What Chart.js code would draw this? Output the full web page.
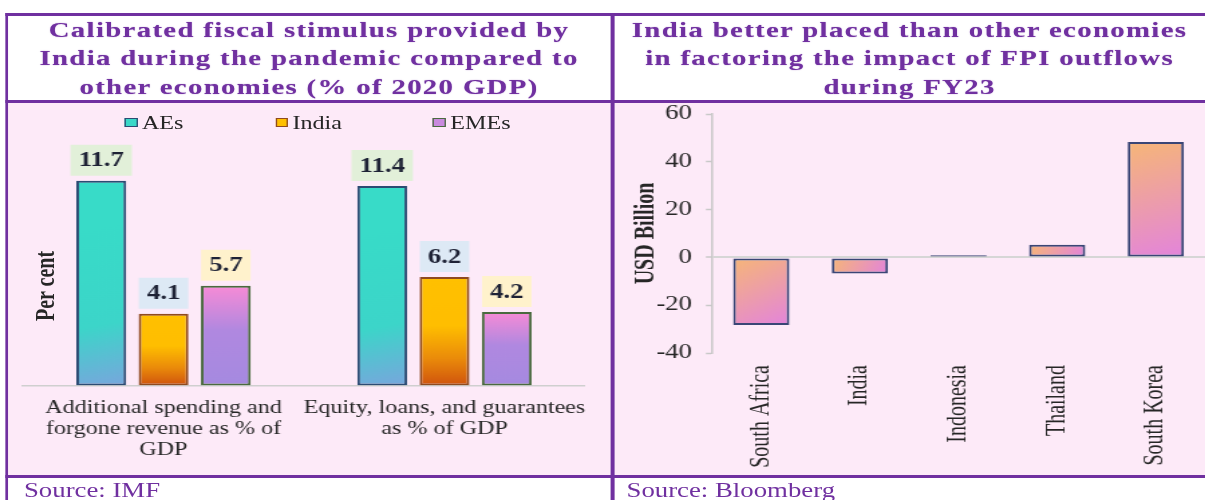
<!DOCTYPE html>
<html>
<head>
<meta charset="utf-8">
<script src="https://cdn.jsdelivr.net/npm/chart.js@4.4.1/dist/chart.umd.min.js"></script>
<style>
html,body{margin:0;padding:0;background:#fff;width:1205px;height:500px;overflow:hidden;}
#stage{position:absolute;left:0;top:0;width:900px;height:500px;transform:scaleX(1.339);transform-origin:0 0;font-family:'Liberation Serif','Times New Roman',serif;}
.line{position:absolute;background:#7030a0;}
.panel{position:absolute;background:#fdeaf8;}
.title{position:absolute;top:15.75px;text-align:center;color:#7030a0;font-weight:bold;font-size:21.5px;line-height:28.5px;letter-spacing:1.0px;white-space:nowrap;text-shadow:0 0 1px rgba(112,48,160,0.6);}
.src{position:absolute;top:479px;color:#7030a0;font-size:20px;line-height:22px;white-space:nowrap;}
.cw{position:absolute;top:103px;height:372px;}
.leg{position:absolute;top:112px;font-size:18px;line-height:22px;color:#262626;white-space:nowrap;}
.mk{position:absolute;top:118px;width:7.7px;height:7px;border:1px solid;}
.ytitle{position:absolute;left:32.8px;top:286px;transform:translate(-50%,-50%) rotate(-90deg);font-weight:bold;font-size:20px;line-height:22px;color:#262626;white-space:nowrap;}
</style>
</head>
<body>
<div id="stage">
  <div class="panel" style="left:6px;top:103px;width:449.6px;height:372px;"></div>
  <div class="panel" style="left:458.6px;top:103px;width:441.4px;height:372px;"></div>

  <div class="line" style="left:3.7px;top:13px;width:896.3px;height:3px;"></div>
  <div class="line" style="left:3.7px;top:100px;width:896.3px;height:3px;"></div>
  <div class="line" style="left:3.7px;top:475px;width:896.3px;height:3px;"></div>
  <div class="line" style="left:3.7px;top:13px;width:2.3px;height:487px;"></div>
  <div class="line" style="left:455.6px;top:13px;width:3px;height:487px;"></div>

  <div class="title" style="left:6px;width:449.6px;">Calibrated fiscal stimulus provided by<br>India during the pandemic compared to<br>other economies (% of 2020 GDP)</div>
  <div class="title" style="left:458.6px;width:441.4px;">India better placed than other economies<br>in factoring the impact of FPI outflows<br>during FY23</div>

  <div class="mk" style="left:93.3px;background:#3ad8c8;border-color:#2c4b73;"></div>
  <div class="leg" style="left:106px;">AEs</div>
  <div class="mk" style="left:205.6px;background:#ffc000;border-color:#8f4a1f;"></div>
  <div class="leg" style="left:218.4px;">India</div>
  <div class="mk" style="left:323.1px;background:#c98ade;border-color:#4a6a3f;"></div>
  <div class="leg" style="left:336.3px;">EMEs</div>

  <div class="ytitle">Per cent</div>

  <div class="cw" style="left:6px;width:449px;"><canvas id="left"></canvas></div>
  <div class="cw" style="left:459px;width:441px;"><canvas id="right"></canvas></div>

  <div class="src" style="left:17.9px;">Source: IMF</div>
  <div class="src" style="left:467.9px;">Source: Bloomberg</div>
</div>

<script>
// ---------- data ----------
const fiscalCategories = [
  ['Additional spending and', 'forgone revenue as % of', 'GDP'],
  ['Equity, loans, and guarantees', 'as % of GDP']
];
const fiscalSeriesNames = ['AEs', 'India', 'EMEs'];
const aesValues = [11.7, 11.4];
const indiaValues = [4.1, 6.2];
const emesValues = [5.7, 4.2];

const fpiCountries = ['South Africa', 'India', 'Indonesia', 'Thailand', 'South Korea'];
const fpiValues = [-28.3, -6.7, 0.9, 5.3, 48.3];
const fpiAxisMin = -40;
const fpiAxisMax = 60;
const fpiAxisStep = 20;

// ---------- styling ----------
const SERIF = "'Liberation Serif', 'Times New Roman', serif";
const TEXT = '#262626';
const CAT_PCT = 0.665, BAR_PCT = 0.8;

function groupedBarBox(c) {
  const chart = c.chart, area = chart.chartArea;
  const xs = chart.scales.x, ys = chart.scales.y;
  const n = chart.data.labels.length, m = chart.data.datasets.length;
  const catW = area.width / n;
  const groupW = catW * CAT_PCT;
  const slot = groupW / m;
  const cx = xs.getPixelForValue(c.dataIndex) - groupW / 2 + slot * (c.datasetIndex + 0.5);
  const bw = slot * BAR_PCT;
  const y1 = ys.getPixelForValue(c.raw), y0 = ys.getPixelForValue(0);
  return {left: cx - bw / 2, right: cx + bw / 2, top: Math.min(y0, y1), bottom: Math.max(y0, y1)};
}
function singleBarBox(c, pct) {
  const chart = c.chart, area = chart.chartArea;
  const xs = chart.scales.x, ys = chart.scales.y;
  const catW = area.width / chart.data.labels.length;
  const cx = xs.getPixelForValue(c.dataIndex);
  const bw = catW * pct;
  const y1 = ys.getPixelForValue(c.raw), y0 = ys.getPixelForValue(0);
  return {left: cx - bw / 2, right: cx + bw / 2, top: Math.min(y0, y1), bottom: Math.max(y0, y1)};
}
function makeFill(fallback, boxFn, dirFn, stops) {
  return function (c) {
    const chart = c.chart;
    if (c.type !== 'data' || !chart.chartArea || !chart.scales.x || !chart.scales.y) return fallback;
    const b = boxFn(c);
    const [x0, y0, x1, y1] = dirFn(b);
    const g = chart.ctx.createLinearGradient(x0, y0, x1, y1);
    stops.forEach(s => g.addColorStop(s[0], s[1]));
    return g;
  };
}
const diag = b => [b.left, b.top, b.right, b.bottom];
const vert = b => [0, b.top, 0, b.bottom];
const skew = b => [b.left, b.top + (b.bottom - b.top) * 0.25, b.right, b.bottom];

const LABEL_BG = ['#e2f0d9', '#dde9f5', '#fff2cc'];
const labelBoxes = {
  id: 'labelBoxes',
  afterDatasetsDraw(chart) {
    const ctx = chart.ctx;
    ctx.save();
    ctx.font = 'bold 20px ' + SERIF;
    ctx.textAlign = 'center';
    ctx.textBaseline = 'middle';
    chart.data.datasets.forEach((ds, di) => {
      chart.getDatasetMeta(di).data.forEach((bar, i) => {
        const txt = ds.data[i].toFixed(1);
        const w = ctx.measureText(txt).width + 12;
        const h = 31;
        const bottom = bar.y - 5;
        ctx.fillStyle = LABEL_BG[di];
        ctx.fillRect(bar.x - w / 2, bottom - h, w, h);
        ctx.fillStyle = '#1e2235';
        ctx.fillText(txt, bar.x, bottom - h / 2 + 1);
      });
    });
    ctx.restore();
  }
};

// ---------- left chart ----------
new Chart(document.getElementById('left'), {
  type: 'bar',
  data: {
    labels: fiscalCategories,
    datasets: [
      {label: fiscalSeriesNames[0], data: aesValues,
       backgroundColor: makeFill('#3ad8c8', groupedBarBox, skew, [[0, '#38dbc8'], [0.6, '#3cd5c9'], [1, '#78a6dd']]),
       borderColor: '#2c4b73'},
      {label: fiscalSeriesNames[1], data: indiaValues,
       backgroundColor: makeFill('#ffc000', groupedBarBox, vert, [[0, '#ffc000'], [0.45, '#ffbe00'], [0.75, '#ea8b0a'], [1, '#cf530e']]),
       borderColor: '#8f4a1f'},
      {label: fiscalSeriesNames[2], data: emesValues,
       backgroundColor: makeFill('#c98ade', groupedBarBox, vert, [[0, '#f78bd6'], [0.45, '#b088e0'], [1, '#a58ae0']]),
       borderColor: '#4a6a3f'}
    ]
  },
  options: {
    responsive: true, maintainAspectRatio: false, animation: false, events: [],
    datasets: {bar: {categoryPercentage: CAT_PCT, barPercentage: BAR_PCT, borderWidth: 2, borderSkipped: false}},
    layout: {padding: {left: 11.2, right: 18.1, top: 37.5, bottom: 0}},
    plugins: {legend: {display: false}, tooltip: {enabled: false}},
    scales: {
      x: {
        grid: {display: false, drawTicks: false},
        border: {display: true, color: '#cfcfcf', width: 1.5},
        ticks: {color: TEXT, font: {family: SERIF, size: 18, lineHeight: 1.17}, padding: 12, maxRotation: 0, minRotation: 0, autoSkip: false},
        afterFit(s) { s.height = 89.5; s.paddingLeft = 0; s.paddingRight = 0; }
      },
      y: {display: false, min: 0, max: 14}
    }
  },
  plugins: [labelBoxes]
});

// ---------- right chart ----------
new Chart(document.getElementById('right'), {
  type: 'bar',
  data: {
    labels: fpiCountries,
    datasets: [{
      label: 'FPI flows FY23', data: fpiValues,
      backgroundColor: makeFill('#eca0b0', c => singleBarBox(c, 0.57), diag, [[0, '#f6b677'], [1, '#e384dc']]),
      borderColor: '#3a4676', borderWidth: 2, borderSkipped: false,
      categoryPercentage: 1, barPercentage: 0.57
    }]
  },
  options: {
    responsive: true, maintainAspectRatio: false, animation: false, events: [],
    layout: {padding: {left: 0, right: 0, top: 11, bottom: 0}},
    plugins: {legend: {display: false}, tooltip: {enabled: false}},
    scales: {
      x: {
        grid: {display: false, drawTicks: false},
        border: {display: false},
        ticks: {color: TEXT, font: {family: SERIF, size: 20}, padding: 12, minRotation: 90, maxRotation: 90, autoSkip: false},
        afterFit(s) { s.height = 122; s.paddingLeft = 0; s.paddingRight = 0; }
      },
      y: {
        min: fpiAxisMin, max: fpiAxisMax,
        ticks: {stepSize: fpiAxisStep, color: TEXT, font: {family: SERIF, size: 20, lineHeight: 1}, padding: 10.4},
        grid: {
          drawOnChartArea: true, drawTicks: true, tickLength: 4.5,
          color: c => (c.tick && c.tick.value === 0 ? '#d6d6d6' : 'rgba(0,0,0,0)'),
          lineWidth: c => (c.tick && c.tick.value === 0 ? 2 : 1),
          tickColor: '#c8c8c8', tickWidth: 1.5
        },
        border: {display: true, color: '#c8c8c8', width: 1.5},
        title: {display: true, text: 'USD Billion', color: TEXT, font: {family: SERIF, size: 20, weight: 'bold', lineHeight: 1.2}, padding: {top: 11.4, bottom: 0}},
        afterFit(s) { s.width = 72.7; s.paddingTop = 0; s.paddingBottom = 0; }
      }
    }
  }
});
</script>
</body>
</html>
